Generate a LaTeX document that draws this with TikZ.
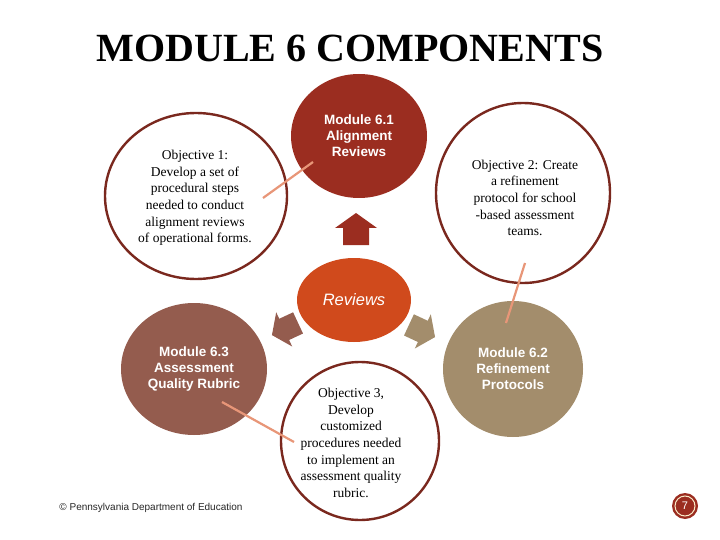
\documentclass[tikz,border=0pt]{standalone}
\usepackage{fontspec}
\setmainfont{Liberation Serif}
\setsansfont{Liberation Sans}
\usetikzlibrary{shapes.geometric}

\definecolor{modred}{RGB}{155,45,32}
\definecolor{revorange}{RGB}{208,74,28}
\definecolor{modbrown}{RGB}{148,92,78}
\definecolor{modtan}{RGB}{163,141,108}
\definecolor{objline}{RGB}{122,40,30}
\definecolor{linkpeach}{RGB}{232,150,120}
\definecolor{cream}{RGB}{250,235,200}

\tikzset{
    blockarrow/.pic={
        \path[pic actions] (0,-16) -- (21,-1) -- (13,-1) -- (13,16) -- (-13,16) -- (-13,-1) -- (-21,-1) -- cycle;
    }
}

\begin{document}
\begin{tikzpicture}[x=1pt, y=-1pt,
    objcircle/.style={ellipse, draw=objline, line width=2.4pt, inner sep=0pt},
    objtext/.style={align=center, font=\fontsize{13.5}{16.7}\selectfont},
    modcircle/.style={ellipse, draw=none, inner sep=0pt, align=center, text=white,
        font=\sffamily\bfseries\fontsize{13.5}{16}\selectfont},
    connector/.style={draw=linkpeach, line width=2.2pt}]
    \useasboundingbox (0,0) rectangle (720,540);
    % Draw title
    \node (title) at (350,48) {\fontsize{40}{40}\selectfont\bfseries MODULE 6 COMPONENTS};
    % Draw objective circles
    \node[objcircle, minimum width=182pt, minimum height=166pt] (obj1) at (196,196) {};
    \node[objcircle, minimum width=174pt, minimum height=180pt] (obj2) at (523,193) {};
    \node[objcircle, minimum width=158pt, minimum height=158pt] (obj3) at (360,441) {};
    \node[objtext] (obj1text) at (195,198) {Objective 1:\\ Develop a set of\\ procedural steps\\ needed to conduct\\ alignment reviews\\ of operational forms.};
    \node[objtext] (obj2text) at (525,198) {Objective 2: Create\\ a refinement\\ protocol for school\\ -based assessment\\ teams.};
    \node[objtext] (obj3text) at (351,443) {Objective 3,\\ Develop\\ customized\\ procedures needed\\ to implement an\\ assessment quality\\ rubric.};
    % Draw module circles
    \node[modcircle, fill=modred, minimum width=136pt, minimum height=124pt] (mod1) at (359,136) {Module 6.1\\ Alignment\\ Reviews};
    \node[modcircle, fill=modbrown, minimum width=146pt, minimum height=132pt] (mod3) at (194,369) {Module 6.3\\ Assessment\\ Quality Rubric};
    \node[modcircle, fill=modtan, minimum width=140pt, minimum height=136pt] (mod2) at (513,369) {Module 6.2\\ Refinement\\ Protocols};
    \node[modcircle, fill=revorange, minimum width=114pt, minimum height=84pt,
        font=\sffamily\itshape\fontsize{16.5}{18}\selectfont] (rev) at (354,300) {Reviews};
    % Draw arrows out of Reviews
    \pic[fill=modred] at (356,229) {blockarrow};
    \pic[fill=modbrown, rotate=115, scale=0.9] at (285,329) {blockarrow};
    \pic[fill=modtan, rotate=-115, scale=0.9] at (422,331) {blockarrow};
    % Draw links between objectives and modules
    \coordinate (link1a) at (263,198);
    \coordinate (link1b) at (313,162);
    \coordinate (link2a) at (525,263);
    \coordinate (link2b) at (506,323);
    \coordinate (link3a) at (222,402);
    \coordinate (link3b) at (294,442);
    \draw[connector] (link1a) -- (link1b);
    \draw[connector] (link2a) -- (link2b);
    \draw[connector] (link3a) -- (link3b);
    % Draw footer and page number
    \node[font=\sffamily\fontsize{10}{12}\selectfont, text=black!85] (footer) at (151,508) {© Pennsylvania Department of Education};
    \node[circle, fill=modred, minimum size=26pt, inner sep=0pt, text=white,
        font=\sffamily\fontsize{11}{11}\selectfont] (pagenum) at (685,506) {7};
    \draw[cream, line width=1pt] (pagenum.center) circle (10);
\end{tikzpicture}
\end{document}
